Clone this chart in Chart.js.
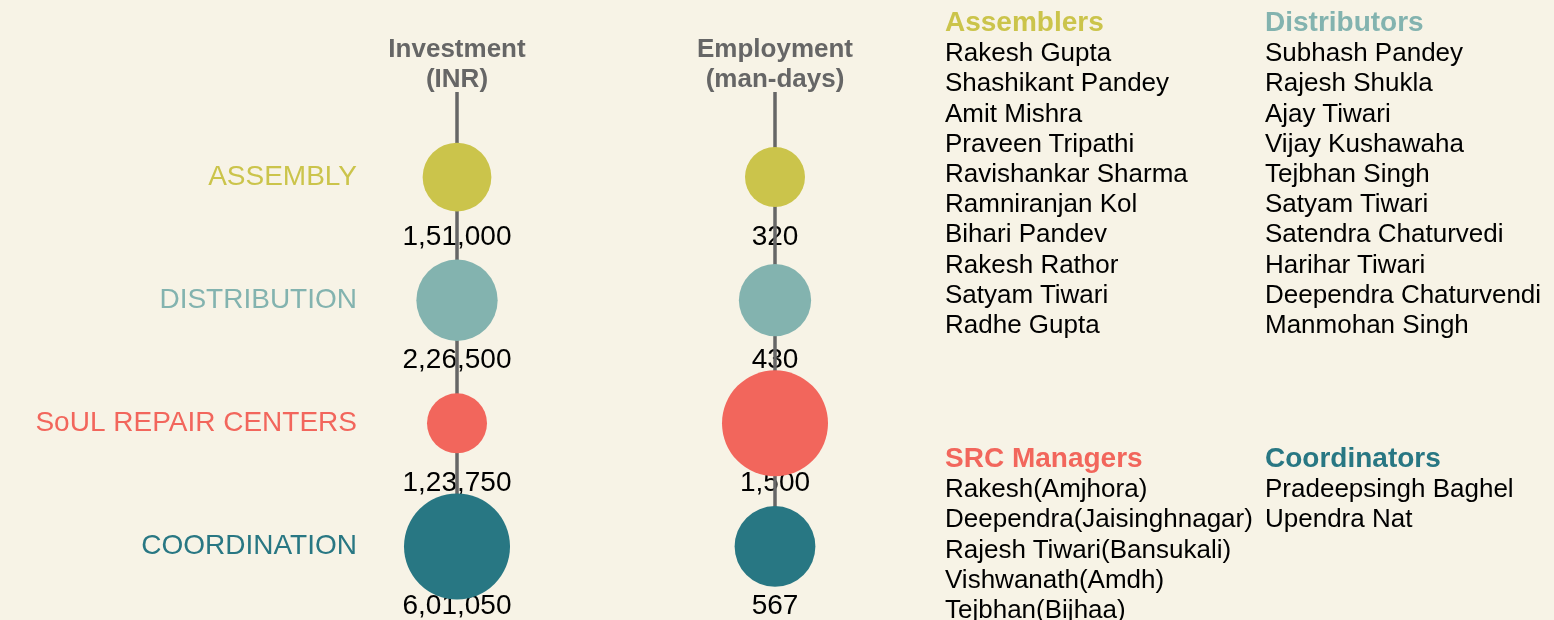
<!DOCTYPE html>
<html>
<head>
<meta charset="utf-8">
<script src="https://cdn.jsdelivr.net/npm/chart.js@4.4.1/dist/chart.umd.min.js"></script>
<style>
  body { margin: 0; background: #f7f3e6; font-family: "Liberation Sans", Arial, sans-serif; }
  #wrap { position: relative; width: 1554px; height: 620px; overflow: hidden; }
  canvas { position: absolute; left: 0; top: 0; }
  .list { position: absolute; font-size: 26px; line-height: 30.2px; color: #000; white-space: nowrap; }
  .list .title { font-size: 28px; font-weight: bold; }
</style>
</head>
<body>
<div id="wrap">
  <canvas id="bubbleChart" width="1554" height="620"></canvas>
</div>
<script>
// categories and series
const categories = ['ASSEMBLY', 'DISTRIBUTION', 'SoUL REPAIR CENTERS', 'COORDINATION'];
const colors = ['#cbc44b', '#83b3af', '#f2665c', '#287783'];
const headers = [['Investment', '(INR)'], ['Employment', '(man-days)']];
const investment = [151000, 226500, 123750, 601050];
const employment = [320, 430, 1500, 567];

// people lists
const assemblers = ['Rakesh Gupta', 'Shashikant Pandey', 'Amit Mishra', 'Praveen Tripathi', 'Ravishankar Sharma',
  'Ramniranjan Kol', 'Bihari Pandev', 'Rakesh Rathor', 'Satyam Tiwari', 'Radhe Gupta'];
const distributors = ['Subhash Pandey', 'Rajesh Shukla', 'Ajay Tiwari', 'Vijay Kushawaha', 'Tejbhan Singh',
  'Satyam Tiwari', 'Satendra Chaturvedi', 'Harihar Tiwari', 'Deependra Chaturvendi', 'Manmohan Singh'];
const srcManagers = ['Rakesh(Amjhora)', 'Deependra(Jaisinghnagar)', 'Rajesh Tiwari(Bansukali)', 'Vishwanath(Amdh)', 'Tejbhan(Bijhaa)'];
const coordinators = ['Pradeepsingh Baghel', 'Upendra Nat'];

const FONT = '"Liberation Sans", Arial, sans-serif';

function addList(title, names, color, left, top) {
    const div = document.createElement('div');
    div.className = 'list';
    div.style.left = left + 'px';
    div.style.top = top + 'px';
    const t = document.createElement('div');
    t.className = 'title';
    t.style.color = color;
    t.textContent = title;
    div.appendChild(t);
    names.forEach(function(n) {
        const d = document.createElement('div');
        d.textContent = n;
        div.appendChild(d);
    });
    document.getElementById('wrap').appendChild(div);
}
addList('Assemblers', assemblers, colors[0], 945, 7);
addList('Distributors', distributors, colors[1], 1265, 7);
addList('SRC Managers', srcManagers, colors[2], 945, 443);
addList('Coordinators', coordinators, colors[3], 1265, 443);

// Indian digit grouping: 1,51,000
function formatIN(v) {
    const s = String(v);
    if (s.length <= 3) return s;
    let last = s.slice(-3);
    let rest = s.slice(0, -3);
    const parts = [];
    while (rest.length > 2) {
        parts.unshift(rest.slice(-2));
        rest = rest.slice(0, -2);
    }
    if (rest) parts.unshift(rest);
    return parts.join(',') + ',' + last;
}

// bubble size from value, log-normalised within each column
function radii(values) {
    const lo = Math.log(Math.min(...values));
    const hi = Math.log(Math.max(...values));
    return values.map(function(v) {
        const t = (Math.log(v) - lo) / (hi - lo);
        return 30 + 23 * Math.pow(t, 0.8);
    });
}

function bubbles(values, col) {
    const r = radii(values);
    return values.map(function(v, i) { return { x: col, y: i, r: r[i], v: v }; });
}

const Y_MIN = -0.691;

const valueLabels = {
    id: 'valueLabels',
    beforeDatasetsDraw(chart) {
        const ctx = chart.ctx;
        ctx.save();
        ctx.font = '28px ' + FONT;
        ctx.fillStyle = '#000';
        ctx.textAlign = 'center';
        ctx.textBaseline = 'middle';
        chart.data.datasets.forEach(function(ds) {
            if (ds.type !== 'bubble') return;
            ds.data.forEach(function(p) {
                const px = chart.scales.x.getPixelForValue(p.x);
                const py = chart.scales.y.getPixelForValue(p.y);
                ctx.fillText(formatIN(p.v), px, py + 60);
            });
        });
        ctx.restore();
    }
};

const ctx = document.getElementById('bubbleChart').getContext('2d');
new Chart(ctx, {
    type: 'bubble',
    data: {
        datasets: [
            {
                type: 'bubble',
                label: 'Investment',
                data: bubbles(investment, 0),
                backgroundColor: colors,
                borderWidth: 0,
                clip: false,
                order: 1
            },
            {
                type: 'bubble',
                label: 'Employment',
                data: bubbles(employment, 1),
                backgroundColor: colors,
                borderWidth: 0,
                clip: false,
                order: 1
            },
            {
                type: 'line',
                data: [{ x: 0, y: Y_MIN }, { x: 0, y: categories.length - 1 }],
                borderColor: '#666666',
                borderWidth: 3.5,
                pointRadius: 0,
                order: 2
            },
            {
                type: 'line',
                data: [{ x: 1, y: Y_MIN }, { x: 1, y: categories.length - 1 }],
                borderColor: '#666666',
                borderWidth: 3.5,
                pointRadius: 0,
                order: 2
            }
        ]
    },
    options: {
        responsive: false,
        animation: false,
        events: [],
        layout: { autoPadding: false, padding: { left: 0, right: 620, top: 0, bottom: 13 } },
        plugins: {
            legend: { display: false },
            tooltip: { enabled: false }
        },
        scales: {
            x: {
                type: 'linear',
                position: 'top',
                min: -0.2736,
                max: 1.5,
                grid: { display: false },
                border: { display: false },
                afterBuildTicks: function(s) { s.ticks = headers.map(function(h, i) { return { value: i }; }); },
                afterFit: function(s) { s.height = 92; },
                ticks: {
                    autoSkip: false,
                    maxRotation: 0,
                    padding: -11,
                    color: '#666666',
                    font: { family: FONT, size: 26, weight: 'bold', lineHeight: 1.16 },
                    callback: function(v) { return headers[v]; }
                }
            },
            y: {
                type: 'linear',
                reverse: true,
                min: Y_MIN,
                max: 3.42,
                grid: { display: false },
                border: { display: false },
                afterBuildTicks: function(s) { s.ticks = categories.map(function(c, i) { return { value: i }; }); },
                afterFit: function(s) { s.width = 370; },
                ticks: {
                    autoSkip: false,
                    padding: 5,
                    font: { family: FONT, size: 28 },
                    color: function(c) { return colors[c.index]; },
                    callback: function(v) { return categories[v]; }
                }
            }
        }
    },
    plugins: [valueLabels]
});
</script>
</body>
</html>
